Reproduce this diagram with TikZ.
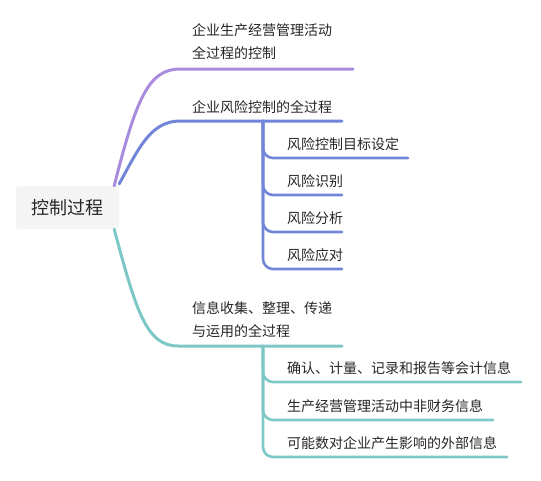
\documentclass[tikz,border=0pt]{standalone}
\usepackage{fontspec}
\setmainfont{Noto Sans CJK SC}
\definecolor{violet}{HTML}{A98BDE}
\definecolor{riskblue}{HTML}{7186D9}
\definecolor{infoteal}{HTML}{7DC8C6}
\definecolor{rootgray}{HTML}{F4F4F4}
\definecolor{ink}{HTML}{262626}

\begin{document}
\begin{tikzpicture}[line cap=round,line join=round,x=1pt,y=-1pt,
    leaf/.style={anchor=west,inner sep=0pt,align=left,text=ink,font=\fontsize{14}{23}\selectfont},
    branch/.style={line width=3pt},
    twig/.style={line width=2.6pt,rounded corners=10pt}]

    \useasboundingbox (0,0) rectangle (541,480);

    % central topic
    \node[fill=rootgray,rounded corners=3pt,minimum width=103pt,minimum height=43pt,
          text=ink,font=\fontsize{18}{20}\selectfont] (root) at (67.5,207.5) {控制过程};

    % first branch
    \node[leaf] (proc) at (192,42) {企业生产经营管理活动\\全过程的控制};
    \coordinate (procs) at (180,69);
    \coordinate (proce) at (353,69);
    \draw[branch,violet] ([xshift=-5pt]root.north east) .. controls (136,100) and (148,69) .. (procs) -- (proce);

    % second branch
    \node[leaf] (risk) at (192,107) {企业风险控制的全过程};
    \coordinate (risks) at (180,121);
    \coordinate (riske) at (342,121);
    \coordinate (risktrunk) at (263,121);
    \draw[branch,riskblue] ([yshift=2pt]root.north east) .. controls (138,150) and (150,121) .. (risks) -- (riske);
    \foreach \n/\y/\e/\t in {ra/158/408/风险控制目标设定, rb/195/342/风险识别,
                             rc/232/342/风险分析, rd/269/342/风险应对}{
        \node[leaf] (\n) at (287,\y-13.5) {\t};
        \coordinate (\n e) at (\e,\y);
        \draw[twig,riskblue] (risktrunk) |- (\n e);
    }

    % third branch
    \node[leaf] (info) at (192,320) {信息收集、整理、传递\\与运用的全过程};
    \coordinate (infos) at (178,346);
    \coordinate (infoe) at (342,346);
    \coordinate (infotrunk) at (263,346);
    \draw[branch,infoteal] ([xshift=-5pt]root.south east) .. controls (136,310) and (146,346) .. (infos) -- (infoe);
    \foreach \n/\y/\e/\t in {ia/382/521/确认、计量、记录和报告等会计信息,
                             ib/420/493/生产经营管理活动中非财务信息,
                             ic/457/507/可能数对企业产生影响的外部信息}{
        \node[leaf] (\n) at (287,\y-13.5) {\t};
        \coordinate (\n e) at (\e,\y);
        \draw[twig,infoteal] (infotrunk) |- (\n e);
    }
\end{tikzpicture}
\end{document}
